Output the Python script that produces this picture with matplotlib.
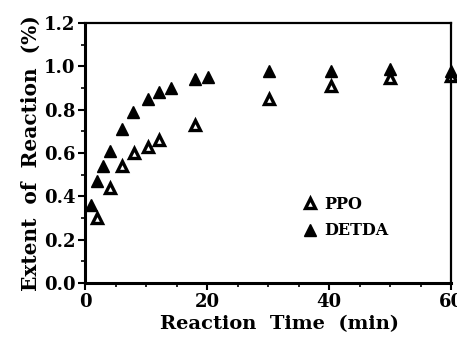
import matplotlib.pyplot as plt
from matplotlib.ticker import MultipleLocator

# reaction time (min) and extent of reaction
ppo_t = [1.9, 4.1, 6.0, 8.0, 10.3, 12.1, 18.1, 30.2, 40.3, 50.0, 60.0]
ppo_y = [0.30, 0.44, 0.54, 0.60, 0.63, 0.66, 0.73, 0.85, 0.91, 0.945, 0.955]
detda_t = [1.0, 2.0, 3.0, 4.1, 6.0, 7.9, 10.3, 12.1, 14.1, 18.1, 20.1, 30.2, 40.3, 50.0, 60.0]
detda_y = [0.36, 0.47, 0.54, 0.61, 0.71, 0.79, 0.85, 0.88, 0.90, 0.94, 0.95, 0.98, 0.98, 0.99, 0.98]

plt.rcParams['font.family'] = 'DejaVu Serif'
plt.rcParams['font.weight'] = 'bold'

fig = plt.figure(figsize=(4.57, 3.40), dpi=100)
ax = fig.add_axes([0.186, 0.168, 0.801, 0.764])

ax.plot(ppo_t, ppo_y, linestyle='none', marker='^', markersize=7,
        markerfacecolor='white', markeredgecolor='black', markeredgewidth=2.4,
        label='PPO', clip_on=False)
ax.plot(detda_t, detda_y, linestyle='none', marker='^', markersize=8,
        color='black', label='DETDA', clip_on=False)

ax.set_xlim(0, 60)
ax.set_ylim(0, 1.2)
ax.xaxis.set_major_locator(MultipleLocator(20))
ax.xaxis.set_minor_locator(MultipleLocator(5))
ax.yaxis.set_major_locator(MultipleLocator(0.2))
ax.yaxis.set_minor_locator(MultipleLocator(0.1))
ax.yaxis.set_major_formatter(plt.FormatStrFormatter('%.1f'))

ax.tick_params(which='major', length=5, width=1.5, labelsize=13, pad=2)
ax.tick_params(which='minor', length=3, width=1.2)
for s in ['left', 'bottom']:
    ax.spines[s].set_linewidth(2.2)
for s in ['top', 'right']:
    ax.spines[s].set_linewidth(1.6)

ax.set_xlabel('Reaction  Time  (min)', fontsize=14, fontweight='bold', labelpad=0)
ax.xaxis.set_label_coords(0.53, -0.125)
ax.set_ylabel('Extent  of  Reaction  (%)', fontsize=14.5, fontweight='bold', labelpad=2)

ax.legend(loc='upper left', bbox_to_anchor=(0.575, 0.36), frameon=False,
          fontsize=11.5, handletextpad=0.4, borderaxespad=0, labelspacing=0.6,
          handlelength=1.0)

fig.savefig('out.png', dpi=100)
